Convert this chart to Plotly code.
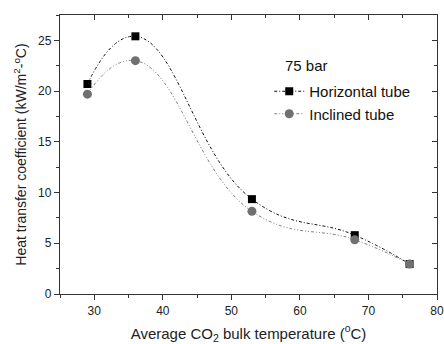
import plotly.graph_objects as go

# Average CO2 bulk temperature (°C)
temperature = [29, 36, 53, 68, 76]
# Heat transfer coefficient (kW/m2-°C)
htc_horizontal = [20.7, 25.4, 9.35, 5.8, 2.95]
htc_inclined = [19.7, 23.0, 8.15, 5.35, 2.95]

FONT = "Liberation Sans, Arial, sans-serif"

fig = go.Figure()
fig.add_trace(go.Scatter(
    x=temperature, y=htc_horizontal, name="Horizontal tube",
    mode="lines+markers",
    line=dict(color="#111111", width=1, dash="3px,2px,1px,2px", shape="spline", smoothing=1.3),
    marker=dict(symbol="square", size=8, color="#000000"),
))
fig.add_trace(go.Scatter(
    x=temperature, y=htc_inclined, name="Inclined tube",
    mode="lines+markers",
    line=dict(color="#808080", width=1, dash="3px,2px,1px,2px,1px,2px", shape="spline", smoothing=1.3),
    marker=dict(symbol="circle", size=9, color="#707070"),
))

axis_common = dict(showgrid=False, zeroline=False, showline=True, linecolor="#333333",
                   linewidth=1.3, tickcolor="#333333", tickwidth=1, automargin=False,
                   tickfont=dict(family=FONT, size=12, color="#222222"))

fig.update_layout(
    width=444, height=344,
    margin=dict(l=60, r=7, t=15, b=50),
    paper_bgcolor="white", plot_bgcolor="white",
    font=dict(family=FONT, color="#222222"),
    xaxis=dict(range=[25, 80], dtick=10, ticks="outside", ticklen=5,
               minor=dict(dtick=5, ticks="outside", ticklen=3, tickcolor="#333333"),
               title=dict(text="Average CO<sub>2</sub> bulk temperature (<sup>o</sup>C)",
                          font=dict(family=FONT, size=15), standoff=11),
               **axis_common),
    yaxis=dict(range=[0, 27.5], dtick=5, ticks="outside", ticklen=5,
               minor=dict(dtick=2.5, ticks="outside", ticklen=3, tickcolor="#333333"),
               title=dict(text="Heat transfer coefficient (kW/m<sup>2</sup>-<sup>o</sup>C)",
                          font=dict(family=FONT, size=14), standoff=8),
               **axis_common),
    xaxis2=dict(range=[25, 80], dtick=10, overlaying="x", side="top", ticks="inside",
                ticklen=5, showticklabels=False, anchor="y",
                minor=dict(dtick=5, ticks="inside", ticklen=3, tickcolor="#333333"),
                **axis_common),
    yaxis2=dict(range=[0, 27.5], dtick=5, overlaying="y", side="right", ticks="inside",
                ticklen=5, showticklabels=False, anchor="x",
                minor=dict(dtick=2.5, ticks="inside", ticklen=3, tickcolor="#333333"),
                **axis_common),
    legend=dict(x=0.555, y=0.785, xanchor="left", yanchor="top", bgcolor="rgba(0,0,0,0)",
                font=dict(family=FONT, size=15, color="#111111"),
                itemwidth=30, tracegroupgap=0),
    showlegend=True,
    annotations=[dict(text="75 bar", x=0.655, y=0.855, xref="paper", yref="paper",
                      showarrow=False, font=dict(family=FONT, size=15, color="#111111"))],
)

# invisible trace to activate the mirrored top/right axes
fig.add_trace(go.Scatter(x=[None], y=[None], xaxis="x2", yaxis="y2", showlegend=False,
                         hoverinfo="skip"))

fig.write_html("out.html")
